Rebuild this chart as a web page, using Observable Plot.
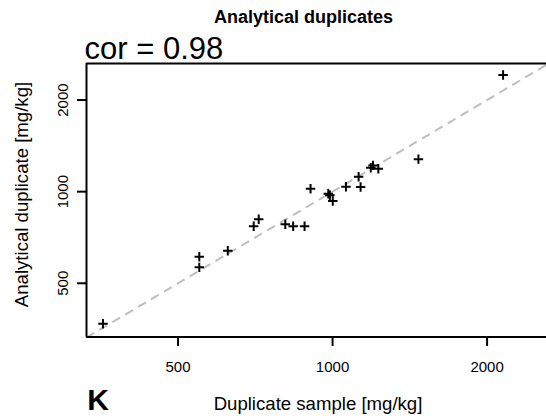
<!DOCTYPE html>
<html>
<head>
<meta charset="utf-8">
<script src="https://cdn.jsdelivr.net/npm/d3@7"></script>
<script src="https://cdn.jsdelivr.net/npm/@observablehq/plot@0.6"></script>
<style>
  html, body { margin: 0; padding: 0; background: #fff; }
  #chart svg { display: block; }
</style>
</head>
<body>
<div id="chart"></div>
<script>
// Data
const duplicateSample = [357, 550, 550, 625, 702, 718, 809, 838, 882, 906, 981, 988, 1001, 1062, 1124, 1134, 1187, 1199, 1228, 1470, 2149];
const analyticalDuplicate = [368, 611, 564, 640, 770, 812, 782, 770, 770, 1023, 985, 973, 932, 1038, 1120, 1036, 1198, 1220, 1189, 1279, 2418];
const xTicks = [500, 1000, 2000];
const yTicks = [500, 1000, 2000];
const xDomain = [331.6, 2611];
const yDomain = [333, 2637];
const titleText = ["Analytical duplicates"];
const corText = ["cor = 0.98"];
const xLabel = ["Duplicate sample [mg/kg]"];
const yLabel = ["Analytical duplicate [mg/kg]"];
const panelLetter = ["K"];

const points = duplicateSample.map((x, i) => ({x, y: analyticalDuplicate[i]}));
const oneToOne = [{x1: xDomain[0], y1: xDomain[0], x2: xDomain[1], y2: xDomain[1]}];

const plot = Plot.plot({
  width: 546,
  height: 420,
  marginLeft: 86,
  marginRight: 0,
  marginTop: 63,
  marginBottom: 83.5,
  style: {fontFamily: "'Liberation Sans', Arial, Helvetica, sans-serif", fontSize: "15px", color: "black", background: "white"},
  x: {type: "log", domain: xDomain},
  y: {type: "log", domain: yDomain},
  marks: [
    Plot.link(oneToOne, {x1: "x1", y1: "y1", x2: "x2", y2: "y2", stroke: "#bebebe", strokeWidth: 2, strokeDasharray: "9,6", clip: true}),
    Plot.ruleY([yDomain[0], yDomain[1]], {stroke: "black", strokeWidth: 2}),
    Plot.ruleX([xDomain[0]], {stroke: "black", strokeWidth: 2}),
    Plot.axisX({ticks: xTicks, tickFormat: d3.format("d"), tickSize: 9.5, tickPadding: 15, strokeWidth: 2, label: null, fontSize: 15}),
    Plot.axisY({ticks: yTicks, tickFormat: d3.format("d"), tickSize: 9, tickPadding: 10, tickRotate: -90, strokeWidth: 2, label: null, fontSize: 15}),
    Plot.dot(points, {x: "x", y: "y", symbol: "plus", r: 3.15, stroke: "black", fill: "none", strokeWidth: 2}),
    Plot.text(titleText, {text: d => d, frameAnchor: "top", textAnchor: "middle", lineAnchor: "middle", dx: -13, dy: -46, fontWeight: "bold", fontSize: 18}),
    Plot.text(corText, {text: d => d, frameAnchor: "top-left", textAnchor: "start", lineAnchor: "middle", dx: -2, dy: -14.4, fontSize: 31}),
    Plot.text(xLabel, {text: d => d, frameAnchor: "bottom", textAnchor: "middle", lineAnchor: "middle", dx: 1.5, dy: 67.5, fontSize: 18.6}),
    Plot.text(yLabel, {text: d => d, frameAnchor: "left", textAnchor: "middle", lineAnchor: "middle", rotate: -90, dx: -64.3, dy: -5.75, fontSize: 18.6}),
    Plot.text(panelLetter, {text: d => d, frameAnchor: "bottom-left", textAnchor: "start", lineAnchor: "middle", dx: 0.7, dy: 63, fontSize: 30, fontWeight: "bold"})
  ]
});
document.getElementById("chart").appendChild(plot);
</script>
</body>
</html>
